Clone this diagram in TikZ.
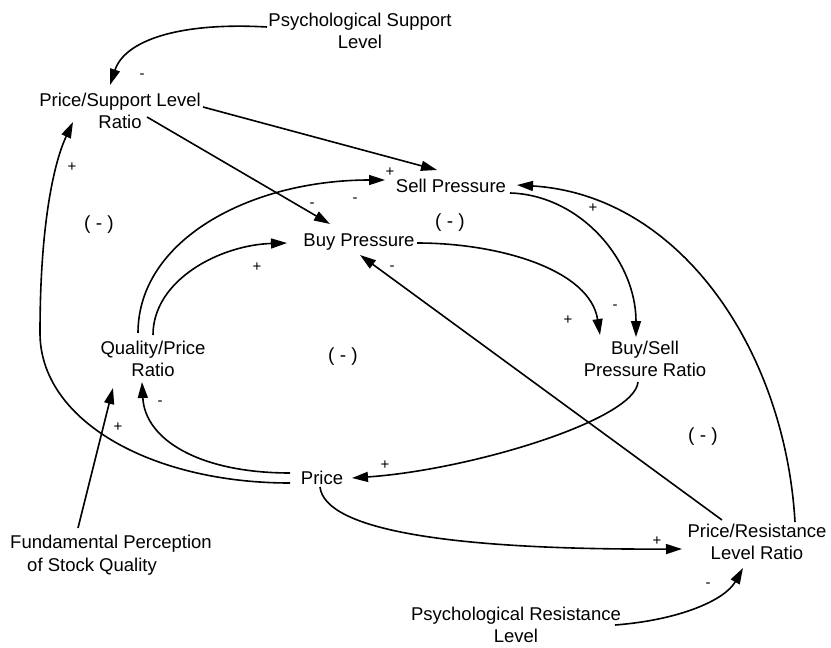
\documentclass[tikz,border=0pt]{standalone}
\usepackage{fontspec}
\setmainfont{Liberation Sans}
\usetikzlibrary{arrows.meta,calc}
\begin{document}
\begin{tikzpicture}[x=1pt,y=-1pt,
  var/.style={font=\fontsize{18.5}{22.5}\selectfont, align=center, inner sep=2pt},
  sgn/.style={font=\fontsize{15}{17}\selectfont, inner sep=0pt},
  loopsign/.style={font=\fontsize{19}{22.5}\selectfont, inner sep=0pt},
  link/.style={line width=1.6pt, -{Triangle[length=16pt,width=10pt]}}]
\useasboundingbox (0,0) rectangle (831,648);
% variables
\node[var] (psup) at (360,31) {Psychological Support\\Level};
\node[var] (psr) at (120,111) {Price/Support Level\\Ratio};
\node[var] (sell) at (451,186) {Sell Pressure};
\node[var] (buy) at (359,242) {Buy Pressure};
\node[var] (qpr) at (153,359) {Quality/Price\\Ratio};
\node[var] (bsr) at (645,359) {Buy/Sell\\Pressure Ratio};
\node[var] (price) at (322,478) {Price};
\node[var] (prr) at (757,542) {Price/Resistance\\Level Ratio};
\node[var, align=left] (fund) at (111,555) {Fundamental Perception\\\hspace*{17pt}of Stock Quality};
\node[var] (pres) at (516,625) {Psychological Resistance\\Level};
% loop polarity
\node[loopsign] (loopa) at (99,225) {( - )};
\node[loopsign] (loopb) at (450,223) {( - )};
\node[loopsign] (loopc) at (343,357) {( - )};
\node[loopsign] (loopd) at (703,437) {( - )};
% links
\draw[link] ($(psup)+(-93,-4)$) .. controls +(-87,-5) and +(15,-45) .. ($(psr)+(-10,-26)$);
\draw[link] ($(psr)+(83,-4)$) -- ($(sell)+(-14,-16)$);
\draw[link] ($(psr)+(27,6)$) -- ($(buy)+(-29,-18)$);
\draw[link] ($(qpr)+(-15,-26)$) .. controls +(0,-93) and +(-135,0) .. ($(sell)+(-66,-6)$);
\draw[link] ($(qpr)+(0,-24)$) .. controls +(0,-55) and +(-67,2) .. ($(buy)+(-72,1)$);
\draw[link] ($(buy)+(58,1)$) .. controls +(83,0) and +(-10,-65) .. ($(bsr)+(-45,-24)$);
\draw[link] ($(sell)+(59,7)$) .. controls +(70,2) and +(0,-77) .. ($(bsr)+(-9,-22)$);
\draw[link] ($(prr)+(38,-20)$) .. controls +(-10,-172) and +(163,10) .. ($(sell)+(66,-1)$);
\draw[link] ($(prr)+(-35,-22)$) -- ($(buy)+(1,13)$);
\draw[link] ($(bsr)+(-7,23)$) .. controls +(-3,38) and +(118,-8) .. ($(price)+(30,0)$);
\draw[link] ($(price)+(-32,-5)$) .. controls +(-90,0) and +(3,58) .. ($(qpr)+(-11,23)$);
\draw[link] ($(price)+(-32,5)$) .. controls +(-140,0) and +(0,87) .. (40,333)
  .. controls +(0,-113) and +(-18,38) .. ($(psr)+(-47,11)$);
\draw[link] ($(price)+(-2,9)$) .. controls +(5,43) and +(-232,1) .. ($(prr)+(-75,7)$);
\draw[link] ($(fund)+(-33,-27)$) -- ($(qpr)+(-40,29)$);
\draw[link] ($(pres)+(99,0)$) .. controls +(65,-5) and +(-18,32) .. ($(prr)+(-14,26)$);
% link polarities
\node[sgn] (s1) at (142,76) {-};
\node[sgn] (s2) at (390,172) {+};
\node[sgn] (s3) at (355,200) {-};
\node[sgn] (s4) at (312,205) {-};
\node[sgn] (s5) at (72,167) {+};
\node[sgn] (s6) at (257,267) {+};
\node[sgn] (s7) at (593,208) {+};
\node[sgn] (s8) at (568,320) {+};
\node[sgn] (s9) at (615,307) {-};
\node[sgn] (s10) at (392,268) {-};
\node[sgn] (s11) at (385,465) {+};
\node[sgn] (s12) at (160,403) {-};
\node[sgn] (s13) at (118,427) {+};
\node[sgn] (s14) at (657,541) {+};
\node[sgn] (s15) at (708,585) {-};
\end{tikzpicture}
\end{document}
